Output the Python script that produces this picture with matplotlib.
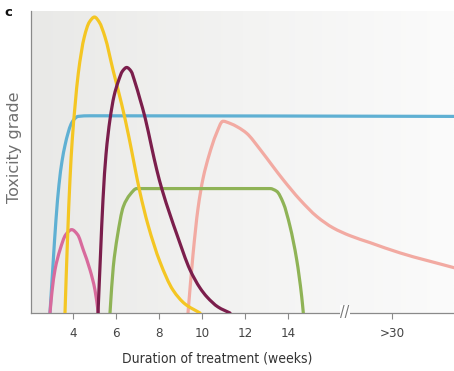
import numpy as np
import matplotlib
matplotlib.use("Agg")
import matplotlib.pyplot as plt
from matplotlib.colors import LinearSegmentedColormap
from matplotlib.path import Path
from matplotlib.patches import PathPatch

# ---- data (weeks, toxicity grade 0..1) ----
blue_x = [2.930, 3.070, 3.209, 3.349, 3.488, 3.628, 3.767, 3.907, 4.047, 4.233, 4.791, 21.72]
blue_y = [0.0, 0.159, 0.309, 0.425, 0.502, 0.555, 0.595, 0.625, 0.641, 0.651, 0.653, 0.651]

yellow_x = [3.628, 3.744, 3.860, 3.967, 4.093, 4.247, 4.526, 4.758, 5.000, 5.223, 5.488, 5.874,
            6.265, 6.605, 6.851, 7.116, 7.488, 8.047, 8.651, 9.209, 9.907]
yellow_y = [0.0, 0.243, 0.442, 0.575, 0.684, 0.794, 0.914, 0.963, 0.980, 0.963, 0.914, 0.801,
            0.691, 0.581, 0.492, 0.399, 0.292, 0.169, 0.076, 0.030, 0.0]

maroon_x = [5.163, 5.279, 5.395, 5.535, 5.721, 5.907, 6.107, 6.302, 6.498, 6.698, 6.884, 7.116,
            7.349, 7.660, 7.893, 8.140, 8.512, 8.837, 9.442, 9.907, 10.233, 10.744, 11.302]
maroon_y = [0.0, 0.193, 0.375, 0.525, 0.641, 0.718, 0.767, 0.801, 0.813, 0.801, 0.764, 0.708,
            0.648, 0.548, 0.475, 0.409, 0.326, 0.259, 0.143, 0.083, 0.053, 0.020, 0.0]

magenta_x = [2.930, 3.023, 3.163, 3.395, 3.660, 3.940, 4.219, 4.479, 4.791, 5.023, 5.177]
magenta_y = [0.0, 0.070, 0.143, 0.209, 0.259, 0.276, 0.259, 0.209, 0.143, 0.076, 0.0]

green_x = [5.721, 5.874, 6.060, 6.340, 6.651, 6.963, 13.163, 13.474, 13.781, 14.093, 14.405, 14.637, 14.712]
green_y = [0.0, 0.153, 0.252, 0.352, 0.392, 0.412, 0.412, 0.403, 0.364, 0.287, 0.176, 0.054, 0.0]

salmon_x = [9.349, 9.581, 9.814, 10.047, 10.326, 10.651, 10.977, 11.302, 11.674, 12.079, 12.698,
            13.302, 13.767, 14.558, 15.349, 16.093, 16.884, 17.814, 19.209, 21.721]
salmon_y = [0.0, 0.193, 0.346, 0.445, 0.522, 0.591, 0.635, 0.628, 0.615, 0.595, 0.542,
            0.485, 0.442, 0.375, 0.319, 0.282, 0.256, 0.233, 0.199, 0.150]

tick_pos = [4, 6, 8, 10, 12, 14, 18.84]
tick_labels = ["4", "6", "8", "10", "12", "14", ">30"]
break_pos = 16.65

XMIN, XMAX = 2.047, 21.72

cond = dict(family='DejaVu Sans', stretch='condensed')


def smooth_path(x, y):
    """Monotone cubic (Fritsch-Carlson) Bezier path through the given points."""
    x = np.asarray(x, float)
    y = np.asarray(y, float)
    h = np.diff(x)
    d = np.diff(y) / h
    n = len(x)
    m = np.zeros(n)
    for i in range(1, n - 1):
        if d[i - 1] * d[i] > 0:
            w1 = 2 * h[i] + h[i - 1]
            w2 = h[i] + 2 * h[i - 1]
            m[i] = (w1 + w2) / (w1 / d[i - 1] + w2 / d[i])
    m[0] = d[0]
    m[-1] = d[-1]
    verts = [(x[0], y[0])]
    codes = [Path.MOVETO]
    for i in range(n - 1):
        verts += [(x[i] + h[i] / 3, y[i] + m[i] * h[i] / 3),
                  (x[i + 1] - h[i] / 3, y[i + 1] - m[i + 1] * h[i] / 3),
                  (x[i + 1], y[i + 1])]
        codes += [Path.CURVE4] * 3
    return Path(verts, codes)


fig = plt.figure(figsize=(4.54, 3.71), dpi=100)
ax = fig.add_axes([31/454, 58/371, 1 - 31/454, (313 - 11)/371])

# background gradient
grad = np.linspace(0, 1, 256).reshape(1, -1)
cmap = LinearSegmentedColormap.from_list("bg", ["#e9e9e7", "#f3f3f2", "#fbfbfb"])
ax.imshow(grad, extent=[XMIN, XMAX, 0, 1], aspect='auto', cmap=cmap, zorder=0)

series = [
    (salmon_x, salmon_y, '#f2aaa2', 2),
    (blue_x, blue_y, '#5fb0d3', 3),
    (magenta_x, magenta_y, '#d86a9c', 3),
    (green_x, green_y, '#8fb356', 3),
    (yellow_x, yellow_y, '#f4c623', 4),
    (maroon_x, maroon_y, '#7b1e4c', 4),
]
for xs, ys, col, z in series:
    ax.add_patch(PathPatch(smooth_path(xs, ys), fill=False, edgecolor=col, linewidth=2.3,
                           capstyle='round', joinstyle='round', zorder=z))

ax.set_xlim(XMIN, XMAX)
ax.set_ylim(0, 1)
for s in ['top', 'right']:
    ax.spines[s].set_visible(False)
for s in ['left', 'bottom']:
    ax.spines[s].set_color('#8a8a8a')
    ax.spines[s].set_linewidth(0.9)
ax.set_yticks([])
ax.set_xticks(tick_pos)
ax.set_xticklabels(tick_labels, fontsize=9.5, color='#444444', **cond)
ax.tick_params(axis='x', direction='out', length=4, width=0.8, color='#8a8a8a', pad=6)

# axis break marker
ax.text(break_pos, 0, '//', ha='center', va='center', fontsize=11, color='#777777',
        bbox=dict(boxstyle='square,pad=0.05', fc='white', ec='none'), clip_on=False, zorder=6, **cond)

fig.text(217/454, 1 - 358/371, 'Duration of treatment (weeks)', ha='center', va='center',
         fontsize=10, color='#333333', **cond)
fig.text(15/454, 1 - 147/371, 'Toxicity grade', rotation=90, ha='center', va='center',
         fontsize=11.5, color='#707070')
fig.text(8/454, 1 - 13/371, 'c', ha='center', va='center', fontsize=9.5, fontweight='bold', color='#111111')

fig.savefig('out.png', dpi=100)
